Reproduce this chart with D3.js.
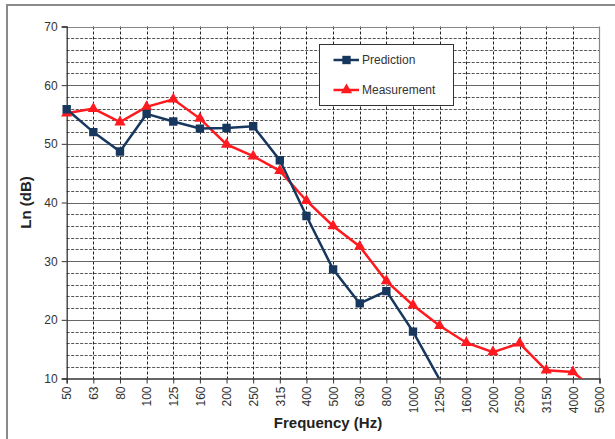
<!DOCTYPE html>
<html>
<head>
<meta charset="utf-8">
<script src="https://cdn.jsdelivr.net/npm/d3@7"></script>
<style>
  html, body { margin: 0; padding: 0; background: #fff; }
  svg { display: block; }
  text { font-family: "Liberation Sans", Arial, sans-serif; }
</style>
</head>
<body>
<svg id="chart" width="615" height="439"></svg>
<script>
const categories = ["50","63","80","100","125","160","200","250","315","400","500","630","800","1000","1250","1600","2000","2500","3150","4000","5000"];
const prediction = [55.9, 52.0, 48.7, 55.1, 53.8, 52.6, 52.7, 53.0, 47.2, 37.7, 28.6, 22.8, 24.9, 18.0, 9.8];
const measurement = [55.2, 56.0, 53.7, 56.3, 57.6, 54.3, 49.9, 47.9, 45.4, 40.3, 36.0, 32.5, 26.6, 22.5, 19.0, 16.1, 14.5, 16.0, 11.4, 11.1, 7.5];
const yTicks = [10, 20, 30, 40, 50, 60, 70];
const yMinor = [12,14,16,18,22,24,26,28,32,34,36,38,42,44,46,48,52,54,56,58,62,64,66,68];

(function () {
const svg = d3.select("#chart");
const pL = 66.7, pR = 599.5, pT = 26.5, pB = 378.5;

const x = d3.scalePoint().domain(categories).range([pL, pR]);
const y = d3.scaleLinear().domain([10, 70]).range([pB, pT]);

// outer border
svg.append("rect").attr("x", 7).attr("y", 5).attr("width", 620).attr("height", 450)
  .attr("fill", "none").attr("stroke", "#8a8a8a").attr("stroke-width", 2);

const g = svg.append("g");

// minor horizontal grid
g.selectAll("line.ymin").data(yMinor).join("line")
  .attr("x1", pL).attr("x2", pR)
  .attr("y1", d => Math.round(y(d)) + 0.5).attr("y2", d => Math.round(y(d)) + 0.5)
  .attr("stroke", "#555").attr("stroke-width", 1).attr("stroke-dasharray", "3,1.5");

// vertical grid
g.selectAll("line.xg").data(categories.slice(1, -1)).join("line")
  .attr("x1", d => Math.round(x(d)) + 0.5).attr("x2", d => Math.round(x(d)) + 0.5)
  .attr("y1", pT).attr("y2", pB)
  .attr("stroke", "#222").attr("stroke-width", 1).attr("stroke-dasharray", "3,2");

// major horizontal grid
g.selectAll("line.ymaj").data(yTicks.slice(1)).join("line")
  .attr("x1", pL).attr("x2", pR)
  .attr("y1", d => Math.round(y(d)) + 0.5).attr("y2", d => Math.round(y(d)) + 0.5)
  .attr("stroke", d => d === 70 ? "#888" : "#666").attr("stroke-width", 1.2);

// right border
g.append("line").attr("x1", pR).attr("x2", pR).attr("y1", pT).attr("y2", pB)
  .attr("stroke", "#888").attr("stroke-width", 1.2);

// axes
const yAxis = d3.axisLeft(y).tickValues(yTicks).tickSize(5).tickPadding(4);
const yg = svg.append("g").attr("transform", `translate(${pL},0)`).call(yAxis);
yg.select(".domain").attr("stroke", "#333").attr("stroke-width", 1.3);
yg.selectAll(".tick line").attr("stroke", "#333");
yg.selectAll(".tick text").attr("font-size", 12).attr("fill", "#333")
  .attr("font-family", "Liberation Sans, Arial, sans-serif");

const xAxis = d3.axisBottom(x).tickSize(5).tickPadding(4);
const xg = svg.append("g").attr("transform", `translate(0,${pB})`).call(xAxis);
xg.select(".domain").attr("stroke", "#333").attr("stroke-width", 1.3);
xg.selectAll(".tick line").attr("stroke", "#333");
xg.selectAll(".tick text")
  .attr("font-size", 12).attr("fill", "#333")
  .attr("font-family", "Liberation Sans, Arial, sans-serif")
  .attr("transform", "rotate(-90)")
  .attr("text-anchor", "end")
  .attr("x", -8).attr("y", 0).attr("dy", "0.35em");

// axis titles
svg.append("text").attr("transform", `translate(31,${(pT + pB) / 2}) rotate(-90)`)
  .attr("text-anchor", "middle").attr("font-size", 15).attr("font-weight", "bold")
  .attr("fill", "#222").text("Ln (dB)");
svg.append("text").attr("x", 328).attr("y", 428)
  .attr("text-anchor", "middle").attr("font-size", 15).attr("font-weight", "bold")
  .attr("fill", "#222").text("Frequency (Hz)");

// clip
svg.append("clipPath").attr("id", "clip").append("rect")
  .attr("x", pL - 10).attr("y", pT - 10).attr("width", pR - pL + 20).attr("height", pB - pT + 10);

const blue = "#17375E", red = "#FF1A1F";
const plot = svg.append("g").attr("clip-path", "url(#clip)");
const line = d3.line().x((d, i) => x(categories[i])).y(d => y(d));

plot.append("path").datum(measurement).attr("d", line)
  .attr("fill", "none").attr("stroke", red).attr("stroke-width", 2.5);
plot.append("path").datum(prediction).attr("d", line)
  .attr("fill", "none").attr("stroke", blue).attr("stroke-width", 2.5);

const tri = d3.symbol().type(d3.symbolTriangle).size(55);
const sq = d3.symbol().type(d3.symbolSquare).size(70);

const inDomain = arr => arr.map((v, i) => ({ v, c: categories[i] })).filter(d => d.v >= 10);

plot.selectAll("path.m").data(inDomain(measurement)).join("path")
  .attr("d", tri).attr("transform", d => `translate(${x(d.c)},${y(d.v)})`)
  .attr("fill", red);
plot.selectAll("path.p").data(inDomain(prediction)).join("path")
  .attr("d", sq).attr("transform", d => `translate(${x(d.c)},${y(d.v)})`)
  .attr("fill", blue);

// legend
const lg = svg.append("g");
lg.append("rect").attr("x", 319.5).attr("y", 44.5).attr("width", 134).attr("height", 61)
  .attr("fill", "#fff").attr("stroke", "#333").attr("stroke-width", 1);
const legendItems = [
  { name: "Prediction", color: blue, sym: sq, y: 60 },
  { name: "Measurement", color: red, sym: tri, y: 90 }
];
legendItems.forEach(it => {
  lg.append("line").attr("x1", 333.5).attr("x2", 359).attr("y1", it.y).attr("y2", it.y)
    .attr("stroke", it.color).attr("stroke-width", 2.5);
  lg.append("path").attr("d", it.sym).attr("transform", `translate(346.5,${it.y})`).attr("fill", it.color);
  lg.append("text").attr("x", 362).attr("y", it.y).attr("dy", "0.35em")
    .attr("font-size", 12).attr("fill", "#333").text(it.name);
});
})();
</script>
</body>
</html>
